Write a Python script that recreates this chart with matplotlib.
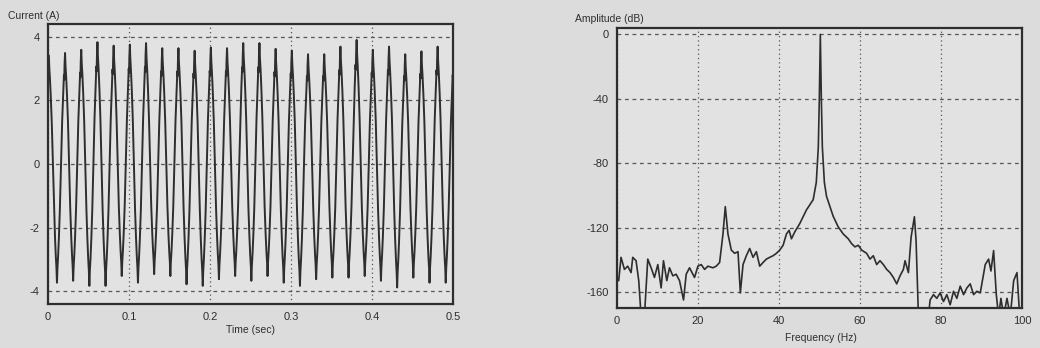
import numpy as np
import matplotlib
matplotlib.use('Agg')
import matplotlib.pyplot as plt

plt.rcParams['font.family'] = ['Liberation Sans', 'DejaVu Sans']
plt.rcParams['axes.unicode_minus'] = False

# --- current waveform (50 Hz) ---
period = 0.02
first_peak = 0.001
# positive peak of each cycle (A)
pos_peaks = [3.40, 3.49, 3.59, 3.83, 3.72, 3.75, 3.80, 3.64, 3.64, 3.56, 3.66, 3.64, 3.80,
             3.80, 3.62, 3.56, 3.45, 3.45, 3.69, 3.90, 3.59, 3.69, 3.45, 3.54, 3.69, 3.50]
# negative peak of each cycle (A)
neg_peaks = [-3.73, -3.67, -3.83, -3.83, -3.52, -3.73, -3.46, -3.52, -3.78, -3.83, -3.62, -3.52,
             -3.67, -3.52, -3.73, -3.83, -3.62, -3.57, -3.57, -3.52, -3.67, -3.88, -3.57, -3.73, -3.73]
# shape of one cycle, starting at the positive peak (fraction of period, fraction of peak)
cycle_phase = [0.00, 0.03, 0.07, 0.12, 0.18, 0.25, 0.32, 0.38, 0.43, 0.47,
               0.50, 0.53, 0.57, 0.62, 0.68, 0.75, 0.82, 0.88, 0.93, 0.95, 0.97]
cycle_level = [1.00, 0.88, 0.78, 0.62, 0.38, 0.00, -0.38, -0.62, -0.78, -0.88,
               -1.00, -0.88, -0.78, -0.62, -0.38, 0.00, 0.38, 0.62, 0.80, 0.76, 0.90]

# --- spectrum ---
freq = [0, 0.41, 0.99, 1.82, 2.64, 3.47, 3.88, 4.70, 5.36, 5.94, 6.77, 7.59, 8.42, 9.24, 10.07,
        10.89, 11.47, 12.29, 12.95, 13.78, 14.60, 15.43, 16.42, 17.08, 17.90, 19.14, 19.97, 20.79,
        21.62, 22.44, 23.68, 24.50, 25.33, 26.16, 26.73, 27.39, 28.22, 29.04, 29.87, 30.45, 31.11,
        31.93, 32.76, 33.58, 34.41, 35.23, 36.06, 36.88, 37.71, 38.53, 39.36, 40.18, 41.01, 41.83,
        42.49, 43.07, 43.89, 45.13, 46.78, 48.43, 49.2, 49.7, 49.95, 50.2, 50.45, 50.7, 51.2,
        51.73, 53.38, 54.62, 55.86, 57.10, 57.92, 58.75, 59.57, 60.40, 61.63, 62.46, 63.28, 64.11,
        64.93, 65.76, 66.58, 67.41, 68.23, 69.06, 69.88, 70.71, 71.12, 71.95, 72.61, 73.43, 73.84,
        74.42, 76.90, 77.31, 78.14, 78.96, 79.79, 80.61, 81.44, 82.26, 83.09, 83.91, 84.74, 85.56,
        86.39, 87.21, 88.04, 88.86, 89.69, 90.92, 91.75, 92.33, 92.99, 93.65, 94.22, 94.80, 95.46,
        96.29, 97.11, 97.94, 98.76, 99.42, 100]
amp_db = [-151, -153, -138.5, -146, -144, -148, -138.5, -140.6, -153, -175, -175, -139.6, -145,
          -151, -143, -157.5, -140.6, -153, -145, -150, -149, -153, -165, -149, -145, -151, -144,
          -143, -146, -144, -145, -144, -141.7, -124, -107, -124, -134, -136, -135, -160.6, -143,
          -137.5, -133, -138.5, -135, -144, -141.7, -139.6, -138.5, -137.5, -136, -134, -131, -124,
          -121.7, -127, -122.7, -117.5, -109, -102.7, -92, -70, -40, 0, -40, -70, -92,
          -100.6, -113, -119.6, -124, -127, -130, -132, -131, -134, -136, -139.6, -137.5, -143,
          -140.6, -143, -146, -148, -151, -155, -150, -146, -140.6, -148, -126, -113.3, -128,
          -175, -175, -165, -161.7, -164, -160.6, -166, -161.7, -168, -159.6, -164, -156.4, -161.7,
          -157.5, -155, -161.7, -159.6, -160.6, -143, -139.6, -147, -134.3, -161.7, -175, -164, -175,
          -164, -175, -153, -148, -175, -175]

t = []
i_wave = []
for k in range(len(neg_peaks)):
    for ph, lv in zip(cycle_phase, cycle_level):
        if ph > 0.75:
            a = pos_peaks[k + 1]
        elif lv >= 0:
            a = pos_peaks[k]
        else:
            a = -neg_peaks[k]
        t.append(first_peak + period * (k + ph))
        i_wave.append(a * lv)
t.append(first_peak + period * len(neg_peaks))
i_wave.append(pos_peaks[-1])

bg = '#dcdcdc'
ax_bg = '#e2e2e2'
ink = '#2e2e2e'
grid_c = '#555555'

fig = plt.figure(figsize=(10.4, 3.48), dpi=100, facecolor=bg)
ax1 = fig.add_axes([0.0462, 0.1264, 0.3894, 0.8046], facecolor=ax_bg)
ax2 = fig.add_axes([0.5933, 0.1149, 0.3894, 0.8046], facecolor=ax_bg)

ax1.plot(t, i_wave, color=ink, lw=1.4)
ax1.set_xlim(0, 0.5)
ax1.set_ylim(-4.4, 4.4)
ax1.set_xticks([0, 0.1, 0.2, 0.3, 0.4, 0.5])
ax1.set_xticklabels(['0', '0.1', '0.2', '0.3', '0.4', '0.5'])
ax1.set_yticks([-4, -2, 0, 2, 4])

ax2.plot(freq, amp_db, color=ink, lw=1.2)
ax2.set_xlim(0, 100)
ax2.set_ylim(-170, 4)
ax2.set_xticks([0, 20, 40, 60, 80, 100])
ax2.set_yticks([-160, -120, -80, -40, 0])

for ax in (ax1, ax2):
    ax.xaxis.grid(True, color=grid_c, lw=0.9, linestyle=(0, (1, 2.5)))
    ax.yaxis.grid(True, color=grid_c, lw=0.9, linestyle=(0, (3, 3)))
    ax.set_axisbelow(True)
    for s in ax.spines.values():
        s.set_color(ink)
        s.set_linewidth(1.6)
    ax.tick_params(length=0, labelsize=8, colors=ink, pad=6)

fig.text(0.008, 0.955, 'Current (A)', fontsize=7.5, color=ink, ha='left', va='center')
fig.text(0.241, 0.052, 'Time (sec)', fontsize=7.5, color=ink, ha='center', va='center')
fig.text(0.553, 0.945, 'Amplitude (dB)', fontsize=7.5, color=ink, ha='left', va='center')
fig.text(0.789, 0.028, 'Frequency (Hz)', fontsize=7.5, color=ink, ha='center', va='center')

fig.savefig('out.png', dpi=100, facecolor=bg)
